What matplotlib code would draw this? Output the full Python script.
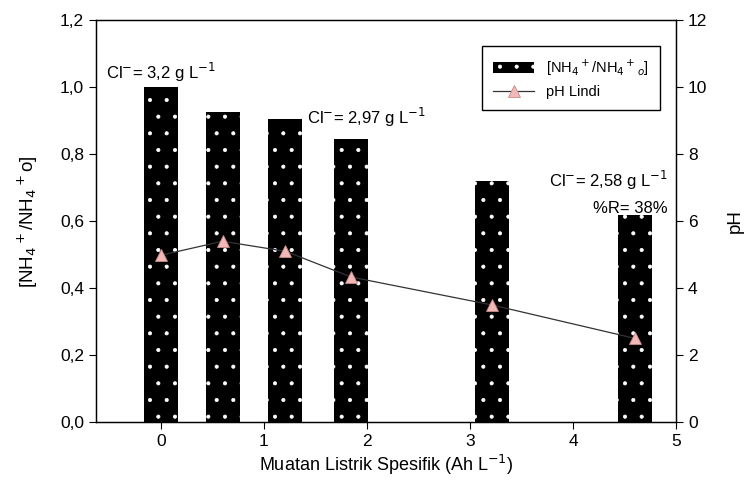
import matplotlib.pyplot as plt
from matplotlib.lines import Line2D
from matplotlib.patches import Patch

plt.rcParams['font.family'] = ['Liberation Sans', 'DejaVu Sans']
plt.rcParams['hatch.color'] = 'white'
plt.rcParams['hatch.linewidth'] = 0.5

charge = [0.0, 0.6, 1.21, 1.85, 3.21, 4.6]
nh4_ratio = [1.0, 0.925, 0.905, 0.845, 0.72, 0.618]
ph_lindi = [4.98, 5.4, 5.1, 4.33, 3.5, 2.5]
x_ticks = [0, 1, 2, 3, 4, 5]
left_ticks = [0.0, 0.2, 0.4, 0.6, 0.8, 1.0, 1.2]
right_ticks = [0, 2, 4, 6, 8, 10, 12]


def comma(v):
    return f"{v:.1f}".replace(".", ",")


fig = plt.figure(figsize=(7.48, 4.92), dpi=100)
ax = fig.add_axes([0.128, 0.142, 0.776, 0.817])
ax2 = ax.twinx()

ax.bar(charge, nh4_ratio, width=0.33, color='black', edgecolor='white',
       linewidth=0, hatch='.', zorder=2)
ax2.plot(charge, ph_lindi, color='#333333', linewidth=0.9, marker='^',
         markersize=8, markerfacecolor='#f2b8b8', markeredgecolor='#c98a8a',
         markeredgewidth=0.6, zorder=3)

ax.set_xlim(-0.63, 5.0)
ax.set_ylim(0, 1.2)
ax2.set_ylim(0, 12)
ax.set_xticks(x_ticks)
ax.set_yticks(left_ticks)
ax.set_yticklabels([comma(v) for v in left_ticks])
ax2.set_yticks(right_ticks)

for a in (ax, ax2):
    a.tick_params(labelsize=12.5, direction='out', length=5, width=0.8)
    for s in a.spines.values():
        s.set_linewidth(0.9)

ax.set_xlabel("Muatan Listrik Spesifik (Ah L$^{-1}$)", fontsize=13, labelpad=3)
ax.set_ylabel("[NH$_4$$^+$/NH$_4$$^+$o]", fontsize=13.5, labelpad=14)
ax2.set_ylabel("pH", fontsize=13.5, labelpad=14)

ax.text(-0.53, 1.008, "Cl$^{-}$= 3,2 g L$^{-1}$", fontsize=12, va='bottom')
ax.text(1.42, 0.875, "Cl$^{-}$= 2,97 g L$^{-1}$", fontsize=12, va='bottom')
ax.text(4.92, 0.688, "Cl$^{-}$= 2,58 g L$^{-1}$", fontsize=12, va='bottom', ha='right')
ax.text(4.92, 0.615, "%R= 38%", fontsize=12, va='bottom', ha='right')

handles = [
    Patch(facecolor='black', edgecolor='white', linewidth=0, hatch='.'),
    Line2D([], [], color='#333333', linewidth=0.9, marker='^', markersize=8,
           markerfacecolor='#f2b8b8', markeredgecolor='#c98a8a', markeredgewidth=0.6),
]
labels = ["[NH$_4$$^+$/NH$_4$$^+$$_o$]", "pH Lindi"]
ax2.legend(handles, labels, loc='upper right', bbox_to_anchor=(0.985, 0.955),
           fontsize=10.5, frameon=True, fancybox=False, edgecolor='black',
           framealpha=1, borderpad=0.8, handlelength=2.8)

fig.savefig("out.png", dpi=100)
